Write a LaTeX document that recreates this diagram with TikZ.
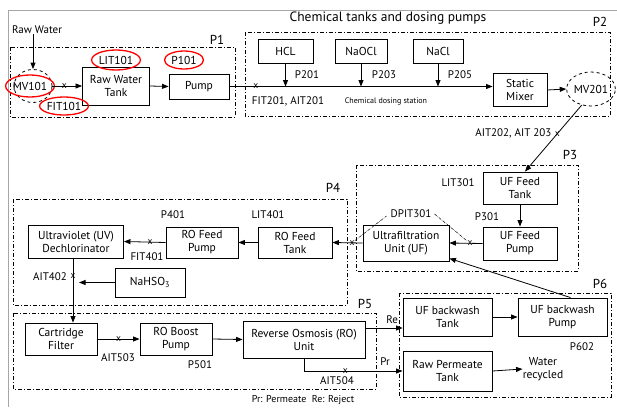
\documentclass[tikz,border=0pt]{standalone}
\usepackage{fontspec}
\setmainfont{PT Sans}
\usetikzlibrary{arrows.meta,shapes.geometric}
\begin{document}
\begin{tikzpicture}[x=1pt,y=-1pt,
  font=\fontsize{11.5}{13}\selectfont,
  box/.style={draw, line width=0.9pt, align=center, inner sep=1pt},
  grp/.style={draw, line width=0.8pt, dash pattern=on 4pt off 2pt on 1pt off 2pt},
  arr/.style={-{Triangle[length=6.5pt,width=5pt]}, line width=0.8pt},
  ln/.style={line width=0.8pt},
  mvring/.style={draw, ellipse, dashed, line width=0.8pt, inner sep=0pt},
  redring/.style={draw=red, ellipse, line width=1.3pt, inner sep=0pt},
  xmark/.style={font=\fontsize{9.5}{9.5}\selectfont, inner sep=0pt},
  lbl/.style={font=\fontsize{11}{12.5}\selectfont, inner sep=0pt},
  plbl/.style={font=\fontsize{13}{14}\selectfont, inner sep=0pt}
]
\useasboundingbox (0,0) rectangle (617,407);
% page frame
\draw[gray!70, line width=0.8pt] (8,407) -- (8,10) -- (617,10);

% group boxes
\draw[grp] (10,47) rectangle (235,117);
\draw[grp] (245,32) rectangle (610,116);
\draw[grp] (356,165) rectangle (578,271);
\draw[grp] (13,199) rectangle (347,305);
\draw[grp] (13,313) rectangle (376,389);
\draw[grp] (399,293) rectangle (611,397);
\node[plbl] (p1) at (217,40) {P1};
\node[plbl] (p2) at (600,22) {P2};
\node[plbl] (p3) at (570,155) {P3};
\node[plbl] (p4) at (333,188) {P4};
\node[plbl] (p5) at (365,304) {P5};
\node[plbl] (p6) at (600,284) {P6};
\node[font=\fontsize{13.5}{15}\selectfont, inner sep=0pt] (title) at (388,18) {Chemical tanks and dosing pumps};

% P1
\node[lbl] (rw) at (37,30) {Raw Water};
\node[mvring, minimum width=38pt, minimum height=33pt] (mv101) at (33,86) {};
\node[redring, minimum width=44pt, minimum height=22pt] (mv101t) at (30,86) {MV101};
\node[box, minimum width=67pt, minimum height=38pt] (rwt) at (116,86) {Raw Water\\Tank};
\node[box, minimum width=60pt, minimum height=25pt] (pump) at (199,86.5) {Pump};
\node[redring, minimum width=48pt, minimum height=20pt] (lit101) at (116,60) {LIT101};
\node[redring, minimum width=48pt, minimum height=18pt] (fit101) at (64,106) {FIT101};
\node[redring, minimum width=39pt, minimum height=18pt] (p101) at (184,60) {P101};
\draw[arr] (rw.south -| mv101.north) -- (mv101.north);
\draw[arr] (mv101.east) -- node[xmark, pos=0.4] {x} (rwt.west);
\draw[arr] (rwt.east) -- (pump.west);

% P2
\node[box, minimum width=55pt, minimum height=24pt] (hcl) at (285.5,51) {HCL};
\node[box, minimum width=52pt, minimum height=24pt] (naocl) at (361,51) {NaOCl};
\node[box, minimum width=50pt, minimum height=24pt] (nacl) at (438,51) {NaCl};
\node[box, minimum width=54pt, minimum height=33pt] (mixer) at (520,90) {Static\\Mixer};
\node[mvring, minimum width=37pt, minimum height=34pt] (mv201) at (591,89) {MV201};
\draw[arr] (pump.east) -- node[xmark, pos=0.1] {x} (pump.east -| mixer.west);
\draw[arr] (hcl.south) -- (hcl.south |- pump.east);
\draw[arr] (naocl.south) -- (naocl.south |- pump.east);
\draw[arr] (nacl.south) -- (nacl.south |- pump.east);
\node[lbl] (p201) at (307,75) {P201};
\node[lbl] (p203) at (384,75) {P203};
\node[lbl] (p205) at (460,75) {P205};
\node[lbl] (fit201) at (288,101) {FIT201, AIT201};
\node[font=\fontsize{8}{9}\selectfont, inner sep=0pt] (cds) at (386,101) {Chemical dosing station};
\draw[arr] (mixer.east) -- (mv201.west);

% P3
\node[box, minimum width=74pt, minimum height=32pt] (uft) at (520,188) {UF Feed\\Tank};
\node[box, minimum width=74pt, minimum height=33pt] (ufp) at (520,243.5) {UF Feed\\Pump};
\node[box, minimum width=86pt, minimum height=36pt] (uf) at (406,243) {Ultrafiltration\\Unit (UF)};
\node[lbl] (lit301) at (458,183) {LIT301};
\node[lbl] (p301) at (487,217) {P301};
\node[lbl] (dpit) at (411,214) {DPIT301};
\draw[arr] (mv201.240) -- node[xmark, pos=0.43] (x202) {x} ([xshift=5pt]uft.north);
\node[lbl, anchor=east] (ait202) at ([xshift=-3pt]x202.west) {AIT202, AIT 203};
\draw[arr] (uft.south) -- (ufp.north);
\draw[arr] (ufp.west) -- node[xmark, pos=0.38] (x301b) {x} (uf.east);
\node[box, minimum width=74pt, minimum height=31pt] (roft) at (295,242.5) {RO Feed\\Tank};
\draw[arr] (uf.west) -- node[xmark, pos=0.35] (x301a) {x} (roft.east);
\draw[densely dash dot, line width=0.5pt] (x301a) -- ([xshift=-4pt,yshift=-2pt]dpit.west);
\draw[densely dash dot, line width=0.5pt] ([xshift=3pt]dpit.east) -- (x301b);

% P4
\node[box, minimum width=95pt, minimum height=33pt] (uv) at (76,241.5) {Ultraviolet (UV)\\Dechlorinator};
\node[box, minimum width=72pt, minimum height=31pt] (rofp) at (202,242.5) {RO Feed\\Pump};
\node[box, minimum width=70pt, minimum height=29pt] (nahso) at (150,282.5) {NaHSO\textsubscript{3}};
\node[lbl] (p401) at (173,215) {P401};
\node[lbl] (lit401) at (268,215) {LIT401};
\node[lbl] (fit401) at (147,257) {FIT401};
\draw[arr] (roft.west) -- (rofp.east);
\draw[arr] (rofp.west) -- node[xmark, pos=0.37] {x} (uv.east);

% P5
\node[box, minimum width=72pt, minimum height=32pt] (cf) at (61,339) {Cartridge\\Filter};
\node[box, minimum width=72pt, minimum height=32pt] (robp) at (176,339) {RO Boost\\Pump};
\node[box, minimum width=122pt, minimum height=37pt] (ro) at (304,339.5) {Reverse Osmosis (RO)\\Unit};
\coordinate (vline) at ([xshift=-3pt]uv.south);
\draw[arr] (vline) -- node[xmark, pos=0.28] (x402) {x} (vline |- cf.north);
\node[lbl, anchor=east] (ait402) at ([xshift=-3pt]x402.west) {AIT402};
\draw[arr] (nahso.west) -- ([xshift=6pt]vline |- nahso.west);
\draw[arr] (cf.east) -- node[xmark, pos=0.5] (x503) {x} (robp.west);
\node[lbl] (ait503) at (118,358) {AIT503};
\node[lbl] (p501) at (200,365) {P501};
\draw[arr] (robp.east) -- (ro.west);

% P6
\node[box, minimum width=89pt, minimum height=38pt] (ufbt) at (447.5,317) {UF backwash\\Tank};
\node[box, minimum width=89pt, minimum height=38pt] (ufbp) at (562.5,317) {UF backwash\\Pump};
\node[box, minimum width=89pt, minimum height=40pt] (rpt) at (447.5,371) {Raw Permeate\\Tank};
\node[align=center, inner sep=0pt] (water) at (543,369) {Water\\recycled};
\node[lbl] (p602) at (582,347) {P602};
\draw[arr] ([yshift=11.5pt]ro.east) -- node[lbl, above=4pt, pos=0.72] (re) {Re} ([yshift=11.5pt]ro.east -| ufbt.west);
\draw[arr] (ro.south) |- node[xmark, pos=0.71] (x504) {x} (rpt.west);
\node[lbl] (ait504) at (337,381) {AIT504};
\node[lbl] (pr) at (385,362) {Pr};
\draw[arr] (ufbt.east) -- (ufbp.west);
\draw[arr] (rpt.east) -- (water.west);
\draw[arr] ([xshift=8pt]ufbp.north) -- ([yshift=3pt]uf.south east);
\node[font=\fontsize{10}{11}\selectfont, inner sep=0pt] (legend) at (303,400) {Pr: Permeate\ \ Re: Reject};
\end{tikzpicture}
\end{document}
